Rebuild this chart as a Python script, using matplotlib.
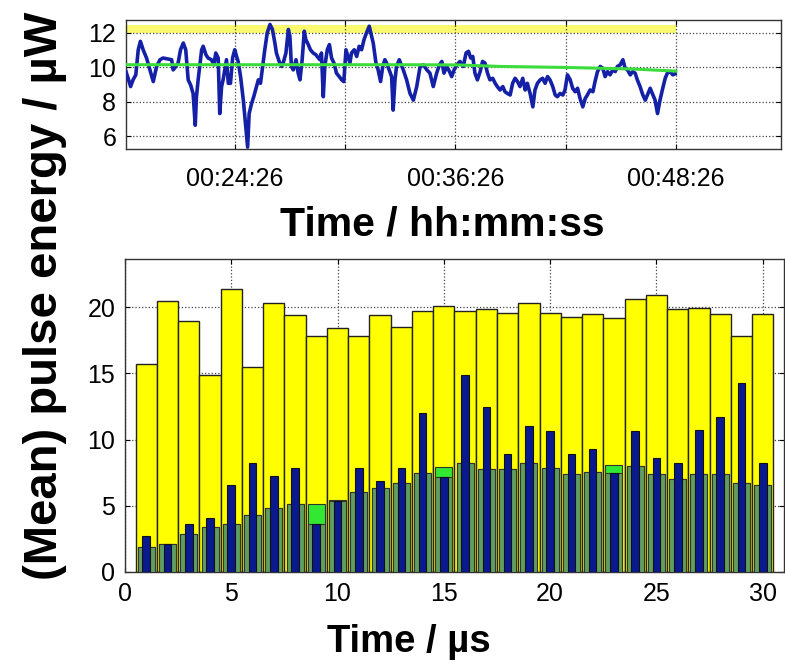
import numpy as np
import matplotlib.pyplot as plt
from matplotlib.ticker import FixedLocator

plt.rcParams['font.family'] = ['Liberation Sans', 'DejaVu Sans']

# ---- top panel: pulse energy vs clock time (seconds since 00:00:00) ----
t_sec = [1111, 1118, 1126, 1134, 1143, 1151, 1158, 1167, 1178, 1189,
         1200, 1211, 1222, 1232, 1249, 1260, 1265, 1274, 1281, 1289,
         1298, 1306, 1314, 1322, 1330, 1337, 1341, 1347, 1358, 1363,
         1372, 1379, 1390, 1398, 1404, 1412, 1417, 1423, 1428, 1439,
         1445, 1452, 1459, 1466, 1472, 1477, 1485, 1494, 1502, 1508,
         1513, 1521, 1528, 1537, 1543, 1550, 1557, 1564, 1572, 1581,
         1589, 1597, 1602, 1611, 1619, 1624, 1633, 1641, 1646, 1651,
         1657, 1666, 1673, 1679, 1686, 1693, 1698, 1706, 1713, 1722,
         1731, 1739, 1744, 1749, 1755, 1760, 1768, 1775, 1782, 1790,
         1798, 1807, 1815, 1822, 1829, 1837, 1842, 1847, 1856, 1864,
         1872, 1880, 1888, 1896, 1905, 1913, 1918, 1927, 1934, 1942,
         1949, 1956, 1962, 1970, 1978, 1983, 1989, 1994, 2003,
         2016, 2027, 2038, 2049, 2060, 2071, 2082, 2093, 2103, 2114, 2125,
         2134, 2142, 2149, 2158, 2167, 2174, 2182, 2191, 2201, 2212,
         2221, 2229, 2236, 2243, 2250, 2258, 2267, 2275, 2283, 2291,
         2299, 2308, 2316, 2323, 2332, 2341, 2348, 2356, 2365, 2373,
         2381, 2389, 2397, 2406, 2414, 2421, 2430, 2439, 2446, 2454,
         2463, 2471, 2479, 2487, 2495, 2504, 2512, 2519, 2528, 2537,
         2544, 2552, 2561, 2569, 2577, 2585, 2593, 2602, 2610, 2617,
         2626, 2635, 2642, 2650, 2659, 2667, 2675, 2683, 2691, 2700,
         2708, 2715, 2724, 2733, 2740, 2748, 2757, 2765, 2773, 2780,
         2789, 2798, 2806, 2813, 2822, 2831, 2838, 2846, 2854, 2863,
         2871, 2878, 2887, 2896, 2903]
energy = [9.75, 9.36, 8.88, 9.27, 9.56, 11.02, 11.51, 11.02, 10.54, 9.85,
          9.17, 10.05, 10.44, 10.54, 10.48, 10.44, 9.85, 10.05, 10.24, 11.02,
          11.41, 11.02, 9.27, 8.97, 8.48, 6.63, 8.29, 9.36, 11.02, 11.22,
          10.73, 10.54, 10.44, 10.14, 10.83, 10.54, 7.31, 8.88, 9.27, 10.44,
          9.07, 9.07, 10.54, 11.02, 10.63, 10.34, 9.46, 8.09, 6.53, 5.36,
          7.31, 7.90, 8.29, 8.88, 9.27, 9.07, 10.05, 11.02, 12.00, 12.49,
          12.20, 11.41, 10.83, 10.34, 10.05, 10.24, 10.83, 12.20, 11.80, 10.05,
          9.85, 10.44, 9.66, 9.27, 10.44, 12.10, 11.61, 11.32, 11.02, 10.83,
          10.73, 10.54, 10.44, 10.83, 8.29, 10.05, 11.02, 11.32, 10.54, 10.24,
          9.66, 9.46, 9.27, 9.17, 11.02, 10.54, 10.24, 10.83, 11.02, 10.63,
          11.22, 11.02, 11.61, 12.00, 12.39, 11.80, 11.41, 10.24, 9.85, 9.17,
          10.05, 10.44, 10.24, 9.85, 9.46, 7.51, 9.27, 10.05, 10.44,
          9.85, 9.27, 8.48, 8.09, 8.88, 10.05, 10.14, 9.85, 9.66, 8.88, 9.66,
          10.14, 10.34, 9.66, 10.05, 9.75, 9.46, 9.85, 10.14, 10.34, 10.05,
          10.83, 10.93, 10.54, 10.63, 9.66, 9.27, 9.75, 10.34, 10.24, 9.66,
          9.27, 9.36, 9.07, 8.88, 8.68, 8.88, 8.58, 8.48, 8.39, 9.07,
          9.36, 9.17, 8.88, 9.36, 8.68, 9.07, 8.48, 7.70, 8.68, 9.07,
          9.27, 9.36, 9.07, 9.46, 9.27, 8.88, 8.39, 8.29, 8.48, 8.39,
          8.68, 9.56, 9.27, 8.78, 8.58, 8.78, 8.19, 7.70, 8.19, 8.39,
          8.68, 8.58, 9.17, 9.75, 10.05, 9.95, 9.46, 9.75, 9.56, 9.85,
          9.75, 10.05, 10.14, 10.44, 9.95, 9.85, 9.56, 9.75, 9.66, 9.27,
          8.88, 8.39, 8.09, 8.39, 8.78, 8.39, 8.09, 7.31, 8.09, 8.78,
          9.36, 9.66, 9.75, 9.56, 9.62]

# running mean (green line)
mean_t = [1111, 2000, 2191, 2332, 2550, 2765, 2906]
mean_e = [10.15, 10.15, 10.14, 10.05, 9.99, 9.90, 9.78]

# yellow band at the top
band_t = [1111, 2906]
band_lo = 12.02
band_hi = 12.45

# ---- bottom panel: per-pulse energies ----
pulse = np.arange(1, 31)
yellow_h = [15.7, 20.5, 19.0, 14.9, 21.4, 15.5, 20.3, 19.4, 17.8, 18.4,
            17.8, 19.4, 18.5, 19.7, 20.1, 19.7, 19.85, 19.6, 20.3, 19.55,
            19.3, 19.5, 19.2, 20.6, 20.9, 19.85, 19.95, 19.5, 17.8, 19.5]
green_h = [1.9, 2.14, 2.9, 3.4, 3.6, 4.34, 4.84, 5.12, 5.12, 5.42,
           6.05, 6.38, 6.76, 7.49, 7.95, 8.2, 7.77, 7.77, 8.2, 7.87,
           7.39, 7.54, 8.07, 8.0, 7.39, 7.06, 7.37, 7.37, 6.76, 6.56]
blue_h = [2.7, 2.1, 3.66, 4.09, 6.56, 8.27, 7.24, 7.87, 3.66, 5.4,
          7.87, 6.86, 7.87, 12.03, 7.19, 14.88, 12.43, 8.9, 11.02, 10.64,
          8.9, 9.28, 7.49, 10.64, 8.58, 8.2, 10.72, 11.73, 14.25, 8.2]

fig = plt.figure(figsize=(7.85, 6.69), dpi=100)

# top
ax1 = fig.add_axes([0.1605, 0.7773, 0.8344, 0.1928])
ax1.fill_between(band_t, band_lo, band_hi, color='#fafa6e', lw=0, zorder=1)
ax1.plot(t_sec, energy, color='#1420a6', lw=2.6, zorder=3)
ax1.plot(mean_t, mean_e, color='#3cdc3c', lw=2.2, zorder=4)
ax1.set_xlim(1111, 3249)
ax1.set_ylim(5.25, 12.75)
ax1.set_yticks([6, 8, 10, 12])
major = [1466, 1826, 2186, 2546, 2906]
ax1.xaxis.set_major_locator(FixedLocator(major))
ax1.set_xticklabels(['00:24:26', '', '00:36:26', '', '00:48:26'])
ax1.grid(True, linestyle=':', color='#444444', lw=0.9)
ax1.tick_params(direction='in', top=True, right=True, labelsize=18, pad=7)
ax1.tick_params(axis='x', pad=13)

# bottom
ax2 = fig.add_axes([0.1592, 0.145, 0.8395, 0.4679])
ax2.set_axisbelow(True)
ax2.bar(pulse, yellow_h, width=1.0, color='#ffff00', edgecolor='#222222', lw=1.0, zorder=2)
ax2.bar(pulse, green_h, width=0.8, color='#33e833', edgecolor='#333333', lw=0.8, zorder=3)
ax2.bar(pulse, np.minimum(green_h, blue_h), width=0.8, color='#5f9e60',
        edgecolor='#333333', lw=0.8, zorder=4)
ax2.bar(pulse, blue_h, width=0.36, color='#0a1a8e', edgecolor='#111111', lw=0.8, zorder=5)
ax2.set_xlim(0, 31)
ax2.set_ylim(0, 23.65)
ax2.set_xticks([0, 5, 10, 15, 20, 25, 30])
ax2.set_yticks([0, 5, 10, 15, 20])
ax2.grid(True, linestyle=':', color='#444444', lw=0.9)
ax2.tick_params(direction='in', top=True, right=True, labelsize=18, pad=7)

for ax in (ax1, ax2):
    for s in ax.spines.values():
        s.set_color('#333333')
        s.set_linewidth(1.0)

fig.text(0.564, 0.6637, 'Time / hh:mm:ss', fontsize=29.5, fontweight='bold',
         ha='center', va='center')
fig.text(0.521, 0.04, 'Time / µs', fontsize=27.5, fontweight='bold',
         ha='center', va='center')
fig.text(0.057, 0.558, '(Mean) pulse energy / µW', fontsize=34, fontweight='bold',
         rotation=90, ha='center', va='center')

fig.savefig('out.png', dpi=100)
